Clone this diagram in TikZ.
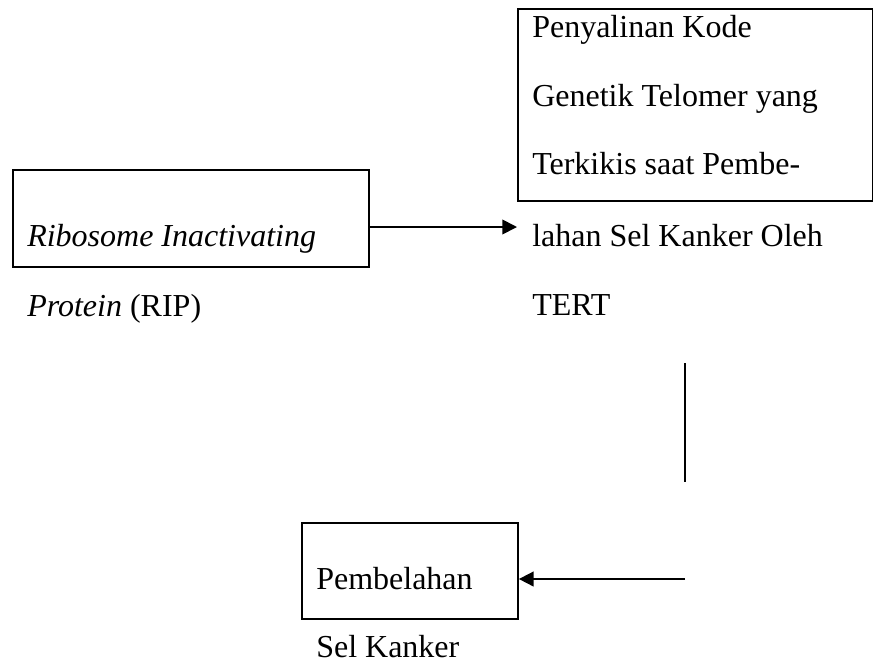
\documentclass[tikz,border=0pt]{standalone}
\usepackage{fontspec}
\setmainfont{Liberation Serif}
\usetikzlibrary{arrows.meta}
\begin{document}
\begin{tikzpicture}[x=0.75pt,y=-0.75pt,
  box/.style={draw,line width=1.4pt,inner sep=0pt,anchor=north west},
  lbl/.style={anchor=base west,inner sep=0pt,font=\fontsize{24}{28}\selectfont},
  conn/.style={line width=1.3pt},
  arr/.style={conn,-{Triangle[length=11pt,width=11pt]}}]
\useasboundingbox (0,0) rectangle (873,664);
% boxes
\node[box,minimum width=267pt,minimum height=72.75pt] (rip) at (12,169) {};
\node[box,minimum width=266.25pt,minimum height=144pt] (tert) at (517,8) {};
\node[box,minimum width=162pt,minimum height=72pt] (pem) at (301,522) {};
% texts
\node[lbl] (t1) at (27,246) {\textit{Ribosome Inactivating}};
\node[lbl] (t2) at (27,316) {\textit{Protein} (RIP)};
\node[lbl] (r1) at (532,37) {Penyalinan Kode};
\node[lbl] (r2) at (532,106) {Genetik Telomer yang};
\node[lbl] (r3) at (532,174) {Terkikis saat Pembe-};
\node[lbl] (r4) at (532,246) {lahan Sel Kanker Oleh};
\node[lbl] (r5) at (532,315) {TERT};
\node[lbl] (p1) at (316,589) {Pembelahan};
\node[lbl] (p2) at (316,657) {Sel Kanker};
% connectors
\coordinate (a1) at (517,227);
\draw[arr] (rip.east |- a1) -- (a1);
\coordinate (v1) at (685,363);
\coordinate (v2) at (685,482);
\draw[conn] (v1) -- (v2);
\coordinate (b1) at (685,579);
\draw[arr] (b1) -- (pem.east |- b1);
\end{tikzpicture}
\end{document}
